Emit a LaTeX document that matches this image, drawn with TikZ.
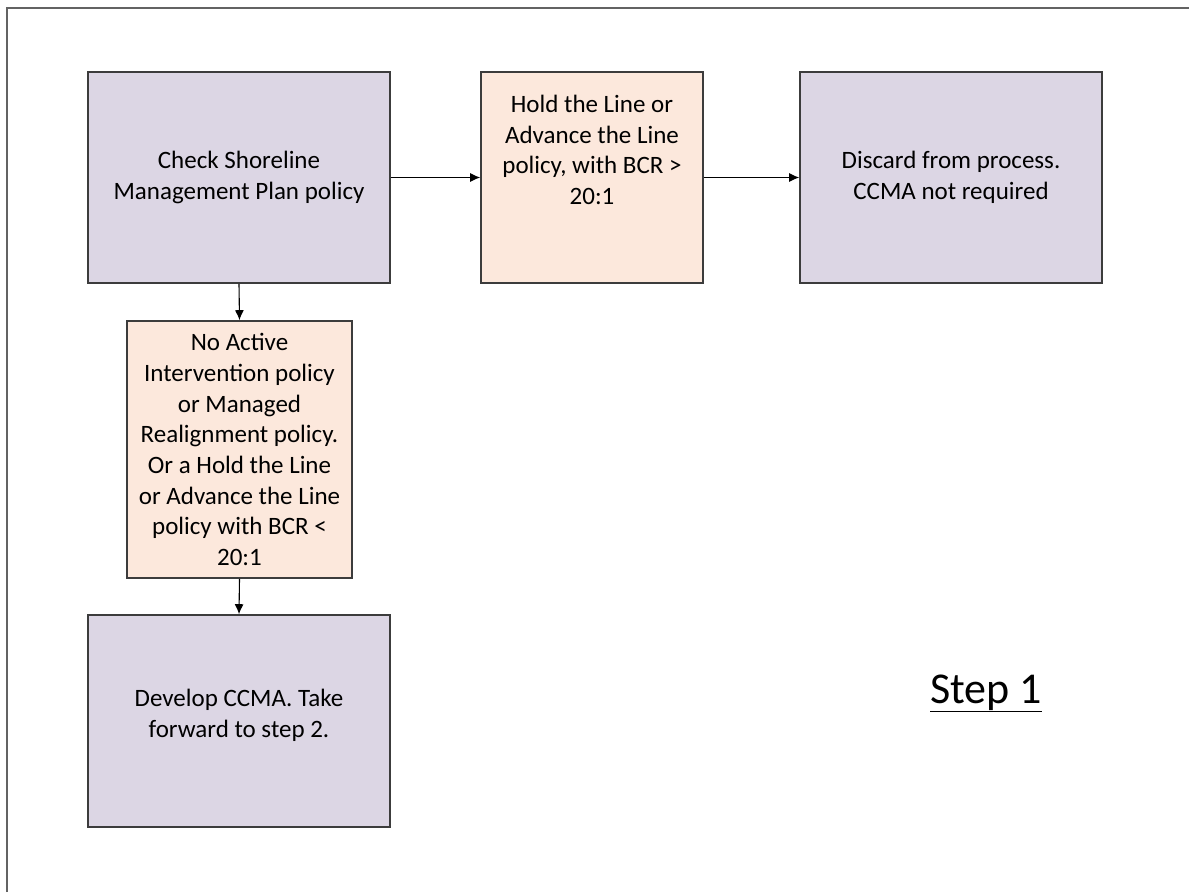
\documentclass[tikz,border=0pt]{standalone}
\usepackage{fontspec}
\setmainfont{Carlito}
\usetikzlibrary{arrows.meta,positioning}
\definecolor{lilac}{RGB}{220,214,228}
\definecolor{peach}{RGB}{252,232,220}
\definecolor{edgegray}{RGB}{60,60,60}
\tikzset{
  box/.style={draw=edgegray, line width=1.6pt, align=center, inner sep=0pt,
    font=\fontsize{25}{30.7}\selectfont},
  flow/.style={-{Latex[length=10pt,width=9pt]}, line width=1.1pt, black},
}

\begin{document}
\begin{tikzpicture}[x=1pt, y=-1pt]
        \useasboundingbox (0,0) rectangle (1189,892);
        % Frame
        \draw[edgegray!80, line width=1.8pt] (7,892) -- (7,8) -- (1189,8);
        % Boxes
        \node[box, fill=lilac, minimum width=302pt, minimum height=211pt] (check) at (239,177.5)
          {Check Shoreline\\Management Plan policy};
        \node[box, fill=peach, minimum width=222pt, minimum height=211pt] (hold) at (592,177.5) {};
        \node[font=\fontsize{25}{30.7}\selectfont, align=center] (holdtxt) at (592,150)
          {Hold the Line or\\Advance the Line\\policy, with BCR >\\20:1};
        \node[box, fill=lilac, minimum width=302pt, minimum height=211pt] (discard) at (951,177.5)
          {Discard from process.\\CCMA not required};
        \node[box, fill=peach, minimum width=225pt, minimum height=257pt] (noactive) at (239.5,449.5)
          {No Active\\Intervention policy\\or Managed\\Realignment policy.\\Or a Hold the Line\\or Advance the Line\\policy with BCR <\\20:1};
        \node[box, fill=lilac, minimum width=302pt, minimum height=212pt] (develop) at (239,721) {};
        \node[font=\fontsize{25}{30.7}\selectfont, align=center] (developtxt) at (239,715)
          {Develop CCMA. Take\\forward to step 2.};
        % Arrows
        \draw[flow] (check.east) -- (hold.west);
        \draw[flow] (hold.east) -- (discard.west);
        \draw[flow] (check.south) -- (noactive.north);
        \draw[flow] (noactive.south) -- (develop.north);
        % Step label
        \node[anchor=base, font=\fontsize{44}{50}\selectfont] (step) at (986,703) {\underline{Step 1}};
      \end{tikzpicture}
\end{document}
